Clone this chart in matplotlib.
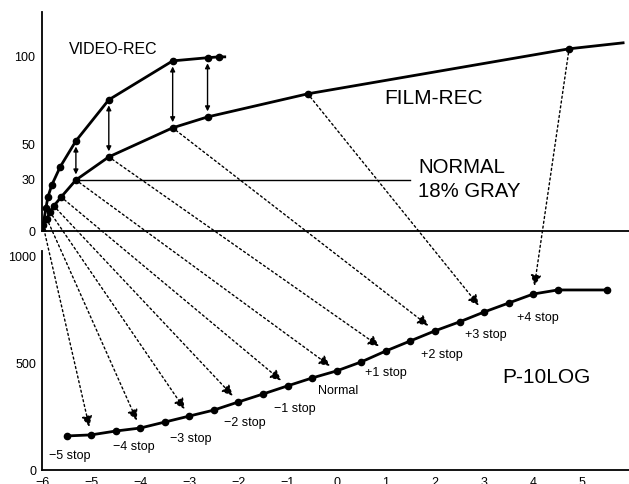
import matplotlib.pyplot as plt
from matplotlib.patches import ConnectionPatch

plt.rcParams['font.family'] = ['Liberation Sans', 'DejaVu Sans']

# top panel: recording curves (exposure vs level)
film_x = [-6.0, -5.98, -5.90, -5.84, -5.76, -5.61, -5.31, -4.64, -3.34, -2.63, -0.59, 4.73, 5.83]
film_y = [0, 3.4, 6.9, 10.9, 14.3, 19.4, 29.1, 42.3, 58.9, 65.1, 78.3, 104.0, 107.4]
video_x = [-6.0, -5.92, -5.88, -5.80, -5.63, -5.31, -4.64, -3.34, -2.63, -2.40, -2.28]
video_y = [0, 13.1, 19.4, 26.3, 36.6, 51.4, 74.9, 97.1, 98.9, 99.4, 99.4]
top_yticks = [0, 30, 50, 100]

# bottom panel: P-10LOG curve (stops vs code value)
p10_x = [-5.5, -5, -4.5, -4, -3.5, -3, -2.5, -2, -1.5, -1, -0.5, 0, 0.5, 1, 1.5, 2, 2.5, 3, 3.5, 4, 4.5, 5.5]
p10_y = [159, 164, 182, 196, 224, 252, 280, 318, 355, 393, 430, 463, 505, 556, 603, 650, 692, 738, 780, 822, 841, 841]
bot_yticks = [0, 500, 1000]
bot_xticks = list(range(-6, 6))

# which film point maps onto which stop
stops = [-5, -4, -3, -2, -1, 0, 1, 2, 3, 4]
film_src_idx = [1, 2, 3, 4, 5, 6, 7, 8, 10, 11]
stop_labels = ['\u22125 stop', '\u22124 stop', '\u22123 stop', '\u22122 stop', '\u22121 stop',
               'Normal', '+1 stop', '+2 stop', '+3 stop', '+4 stop']
label_offsets = [(-21, -20), (-6, -18), (1, -22), (6, -20), (7, -22),
                 (1, -19), (0, -21), (7, -23), (2, -22), (5, -23)]
# vertical double arrows between the two recording curves (video idx, film idx)
gap_pairs = [(5, 6), (6, 7), (7, 8), (8, 9)]

fig = plt.figure(figsize=(6.29, 4.85), dpi=100)
ax_top = fig.add_axes([42 / 629, 253 / 485, 1 - 42 / 629, 219 / 485])
ax_bot = fig.add_axes([42 / 629, 14 / 485, 1 - 42 / 629, 219 / 485])

for ax in (ax_top, ax_bot):
    ax.set_xlim(-6, 5.95)
    for s in ('top', 'right'):
        ax.spines[s].set_visible(False)
    for s in ('left', 'bottom'):
        ax.spines[s].set_linewidth(1.3)
    ax.tick_params(length=0, labelsize=9)

ax_top.set_ylim(0, 125)
ax_top.set_yticks(top_yticks)
ax_top.set_xticks([])
ax_top.tick_params(axis='y', pad=5)

ax_bot.set_ylim(0, 1023)
ax_bot.set_yticks(bot_yticks)
ax_bot.set_xticks(bot_xticks)
ax_bot.tick_params(axis='y', pad=4)
ax_bot.tick_params(axis='x', pad=4)

# curves
ax_top.plot(video_x, video_y, color='k', lw=2)
ax_top.plot(video_x[:-1], video_y[:-1], 'o', color='k', ms=4.5)
ax_top.plot(film_x, film_y, color='k', lw=2)
ax_top.plot(film_x[:-1], film_y[:-1], 'o', color='k', ms=4.5)
ax_bot.plot(p10_x, p10_y, color='k', lw=2, marker='o', ms=4.5)

# 18% gray reference line
ax_top.plot([film_x[6], 1.5], [film_y[6], film_y[6]], color='k', lw=1)

for vi, fi in gap_pairs:
    ax_top.annotate('', xy=(film_x[fi], film_y[fi]), xytext=(video_x[vi], video_y[vi]),
                    arrowprops=dict(arrowstyle='<|-|>', color='k', lw=1,
                                    mutation_scale=7, shrinkA=4, shrinkB=4))

# dotted mapping arrows
for stop, i in zip(stops, film_src_idx):
    yb = p10_y[p10_x.index(stop)]
    con = ConnectionPatch(xyA=(film_x[i], film_y[i]), coordsA=ax_top.transData,
                          xyB=(stop, yb), coordsB=ax_bot.transData,
                          arrowstyle='-|>', mutation_scale=16, lw=1,
                          linestyle=(0, (1.5, 2)), color='k', shrinkA=3, shrinkB=6)
    fig.add_artist(con)

for stop, lab, off in zip(stops, stop_labels, label_offsets):
    yb = p10_y[p10_x.index(stop)]
    ax_bot.annotate(lab, xy=(stop, yb), xytext=off, textcoords='offset pixels',
                    ha='center', va='center', fontsize=9)

ax_top.text(-4.54, 104, 'VIDEO-REC', ha='center', va='center', fontsize=11.5)
ax_top.text(1.97, 76, 'FILM-REC', ha='center', va='center', fontsize=15)
ax_top.text(1.66, 37.1, 'NORMAL', ha='left', va='center', fontsize=14.7)
ax_top.text(1.66, 22.9, '18% GRAY', ha='left', va='center', fontsize=14.7)
ax_bot.text(4.26, 439, 'P-10LOG', ha='center', va='center', fontsize=15)

fig.savefig('out.png', dpi=100)
